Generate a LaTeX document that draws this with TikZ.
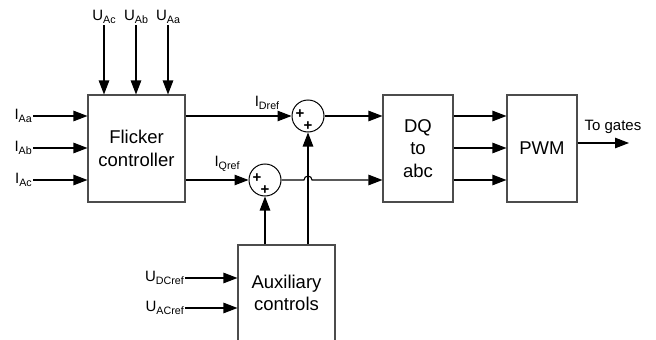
\documentclass[tikz,border=0pt]{standalone}
\usepackage{fontspec}
\setmainfont{Liberation Sans}
\usetikzlibrary{arrows.meta, positioning}

\newcommand{\sig}[2]{#1\raisebox{-3pt}{\fontsize{10.7}{11}\selectfont #2}}

\begin{document}
\begin{tikzpicture}[
    x=1pt, y=-1pt,
    block/.style={
        rectangle, draw=black!70, line width=1.1pt,
        inner sep=0pt, align=center,
        font=\fontsize{18.5}{22.5}\selectfont
    },
    sumnode/.style={
        circle, draw=black, line width=1pt,
        minimum size=32pt, inner sep=0pt
    },
    plus/.style={font=\fontsize{15}{15}\selectfont\bfseries, inner sep=0pt},
    lbl/.style={font=\fontsize{15}{15}\selectfont, inner sep=1pt},
    arrow/.style={-{Triangle[length=14pt, width=10.5pt]}, line width=1.1pt},
]

\useasboundingbox (0,0) rectangle (656,340);
\clip (0,0) rectangle (656,340);

% Blocks
\node[block, minimum width=97pt, minimum height=107pt] (flicker) at (136.5,148.5)
    {Flicker\\controller};
\node[block, minimum width=70pt, minimum height=107pt] (dq) at (418,148.5)
    {DQ\\to\\abc};
\node[block, minimum width=70pt, minimum height=107pt] (pwm) at (542,148.5)
    {PWM};
\node[block, minimum width=97pt, minimum height=96pt] (aux) at (286.5,293)
    {Auxiliary\\controls};

% Summing points
\node[sumnode] (sumd) at (308,116) {};
\node[sumnode] (sumq) at (265,180) {};
\foreach \s in {sumd,sumq} {
    \node[plus] (\s-a) at ([xshift=-8pt,yshift=2pt]\s) {+};
    \node[plus] (\s-b) at ([yshift=-10pt]\s) {+};
}

% Voltage inputs
\foreach \n/\x/\lab in {uac/104/Ac, uab/136/Ab, uaa/168/Aa} {
    \node[lbl, anchor=south] (\n) at (\x,25) {\sig{U}{\lab}};
    \draw[arrow] (\n.south) -- (\n.south |- flicker.north);
}

% Current inputs
\foreach \n/\y/\lab in {iaa/116/Aa, iab/148/Ab, iac/180/Ac} {
    \node[lbl, anchor=east] (\n) at (33,\y) {\sig{I}{\lab}};
    \draw[arrow] (\n.east) -- (\n.east -| flicker.west);
}

% References to summing points
\draw[arrow] (flicker.east |- sumd) -- (sumd.west);
\draw[arrow] (flicker.east |- sumq) -- (sumq.west);
\node[lbl] (idref) at (267,103) {\sig{I}{Dref}};
\node[lbl] (iqref) at (227,164) {\sig{I}{Qref}};

% Into DQ to abc
\draw[arrow] (sumd.east) -- (sumd -| dq.west);
\draw[arrow] (sumq.east) -- ([xshift=-4pt]sumq -| sumd)
    arc[start angle=180, end angle=360, radius=4] -- (sumq -| dq.west);

% Auxiliary controls outputs
\draw[arrow] (sumq |- aux.north) -- (sumq.south);
\draw[arrow] (sumd |- aux.north) -- (sumd.south);

% DC/AC voltage references
\node[lbl, anchor=east] (udcref) at (185,278) {\sig{U}{DCref}};
\node[lbl, anchor=east] (uacref) at (185,308) {\sig{U}{ACref}};
\draw[arrow] (udcref.east) -- (udcref.east -| aux.west);
\draw[arrow] (uacref.east) -- (uacref.east -| aux.west);

% DQ to PWM
\foreach \y in {116,148,180} {
    \draw[arrow] (dq.east |- 0,\y) -- (pwm.west |- 0,\y);
}

% Output
\coordinate (gates) at (629,143);
\draw[arrow] (pwm.east |- gates) -- (gates);
\node[lbl] (togates) at (613,127) {To gates};

\end{tikzpicture}
\end{document}
